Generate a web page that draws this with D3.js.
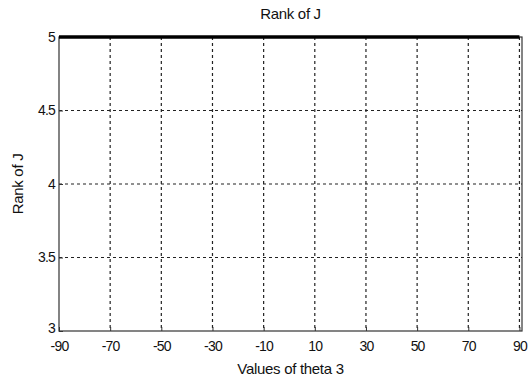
<!DOCTYPE html>
<html>
<head>
<meta charset="utf-8">
<script src="https://cdn.jsdelivr.net/npm/d3@7"></script>
<style>
	body { margin: 0; background: #fff; }
	text { font-family: 'Liberation Sans', Arial, sans-serif; fill: #111; }
</style>
</head>
<body>
<div id="chart"></div>
<script>
// Data
const thetaValues = [-90, -80, -70, -60, -50, -40, -30, -20, -10, 0, 10, 20, 30, 40, 50, 60, 70, 80, 90];
const rankValues = [5, 5, 5, 5, 5, 5, 5, 5, 5, 5, 5, 5, 5, 5, 5, 5, 5, 5, 5];
const xTicks = [-90, -70, -50, -30, -10, 10, 30, 50, 70, 90];
const yTicks = [3, 3.5, 4, 4.5, 5];

const W = 528, H = 380;
const margin = { left: 59, right: 6, top: 37, bottom: 49 };
const width = W - margin.left - margin.right;
const height = H - margin.top - margin.bottom;

const svg = d3.select('#chart')
	.append('svg')
	.attr('width', W)
	.attr('height', H);

const g = svg.append('g')
	.attr('transform', `translate(${margin.left},${margin.top})`);

const x = d3.scaleLinear().domain([-90, 91]).range([0, width]);
const y = d3.scaleLinear().domain([3, 5]).range([height, 0]);

// Grid lines (dashed)
g.append('g')
	.selectAll('line')
	.data(xTicks.slice(1))
	.enter()
	.append('line')
	.attr('x1', (d) => x(d))
	.attr('x2', (d) => x(d))
	.attr('y1', 0)
	.attr('y2', height)
	.attr('stroke', '#222')
	.attr('stroke-width', 1.2)
	.attr('stroke-dasharray', '3,3');

g.append('g')
	.selectAll('line')
	.data(yTicks.slice(1, -1))
	.enter()
	.append('line')
	.attr('x1', 0)
	.attr('x2', width)
	.attr('y1', (d) => y(d))
	.attr('y2', (d) => y(d))
	.attr('stroke', '#222')
	.attr('stroke-width', 1.2)
	.attr('stroke-dasharray', '3,3');

// Box
g.append('rect')
	.attr('x', 0)
	.attr('y', 0)
	.attr('width', width)
	.attr('height', height)
	.attr('fill', 'none')
	.attr('stroke', '#333')
	.attr('stroke-width', 1.2);

// Axes with inward ticks
const xAxis = g.append('g')
	.attr('transform', `translate(0,${height})`)
	.call(d3.axisBottom(x).tickValues(xTicks).tickSize(-4).tickPadding(10).tickFormat((d) => String(d)));
const yAxis = g.append('g')
	.call(d3.axisLeft(y).tickValues(yTicks).tickSize(-4).tickPadding(6).tickFormat((d) => String(d)));

[xAxis, yAxis].forEach((a) => {
	a.select('.domain').remove();
	a.selectAll('line').attr('stroke', '#333');
	a.selectAll('text')
		.style('font-family', "'Liberation Sans', Arial, sans-serif")
		.style('font-size', '14px')
		.style('letter-spacing', '-0.8px')
		.attr('fill', '#111');
});
yAxis.selectAll('text').attr('dx', '2');
// lowest y label sits a little above the axis line, as in the reference
yAxis.selectAll('.tick text').filter((d) => d === 3).attr('dy', '0.1em');

// Rank line
const line = d3.line()
	.x((d, i) => x(thetaValues[i]))
	.y((d) => y(d));

g.append('path')
	.datum(rankValues)
	.attr('d', line)
	.attr('fill', 'none')
	.attr('stroke', '#000')
	.attr('stroke-width', 3.5);

// Labels
svg.append('text')
	.attr('x', margin.left + width / 2)
	.attr('y', 19)
	.attr('text-anchor', 'middle')
	.style('font-size', '15px')
	.style('letter-spacing', '-0.3px')
	.text('Rank of J');

svg.append('text')
	.attr('x', margin.left + width / 2)
	.attr('y', 374)
	.attr('text-anchor', 'middle')
	.style('font-size', '15px')
	.style('letter-spacing', '-0.3px')
	.text('Values of theta 3');

svg.append('text')
	.attr('transform', `translate(23,${margin.top + height / 2}) rotate(-90)`)
	.attr('text-anchor', 'middle')
	.style('font-size', '15px')
	.style('letter-spacing', '-0.3px')
	.text('Rank of J');
</script>
</body>
</html>
